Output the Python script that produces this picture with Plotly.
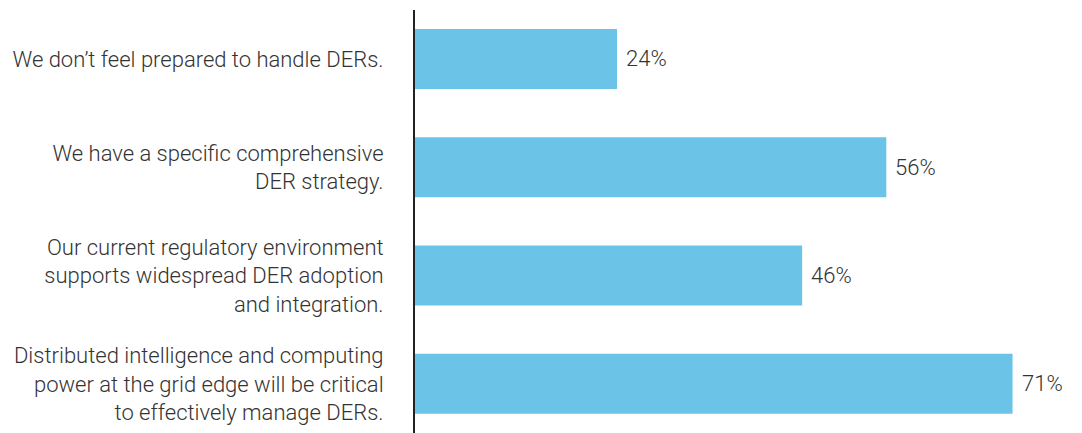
import plotly.graph_objects as go

categories = [
    "We don’t feel prepared to handle DERs.",
    "We have a specific comprehensive<br>DER strategy.",
    "Our current regulatory environment<br>supports widespread DER adoption<br>and integration.",
    "Distributed intelligence and computing<br>power at the grid edge will be critical<br>to effectively manage DERs.",
]
values = [24, 56, 46, 71]
value_labels = ["24%", "56%", "46%", "71%"]

FONT = "Roboto, Liberation Sans, Arial"

fig = go.Figure()
fig.add_trace(go.Bar(
    x=values, y=categories, orientation="h",
    marker=dict(color="#6CC3E8", line=dict(width=0)),
    width=0.555, hoverinfo="skip",
))
for v, c, t in zip(values, categories, value_labels):
    fig.add_annotation(x=v, y=c, text=t, showarrow=False, xanchor="left",
                       xshift=7, font=dict(family=FONT, size=22, color="#333", weight=300))

fig.update_layout(
    width=1082, height=433,
    margin=dict(l=407, r=0, t=2, b=0),
    paper_bgcolor="white", plot_bgcolor="white",
    showlegend=False,
    font=dict(family=FONT, size=22, color="#333"),
    xaxis=dict(range=[0, 80.2], showgrid=False, zeroline=False, showticklabels=False,
               showline=False, fixedrange=True),
    yaxis=dict(type="category", range=[3.528, -0.452], showgrid=False, zeroline=False,
               showline=True, linecolor="#222", linewidth=2,
               ticks="outside", ticklen=25, tickcolor="rgba(0,0,0,0)",
               tickfont=dict(family=FONT, size=22, color="#333", weight=300)),
)
fig.write_html("out.html")
